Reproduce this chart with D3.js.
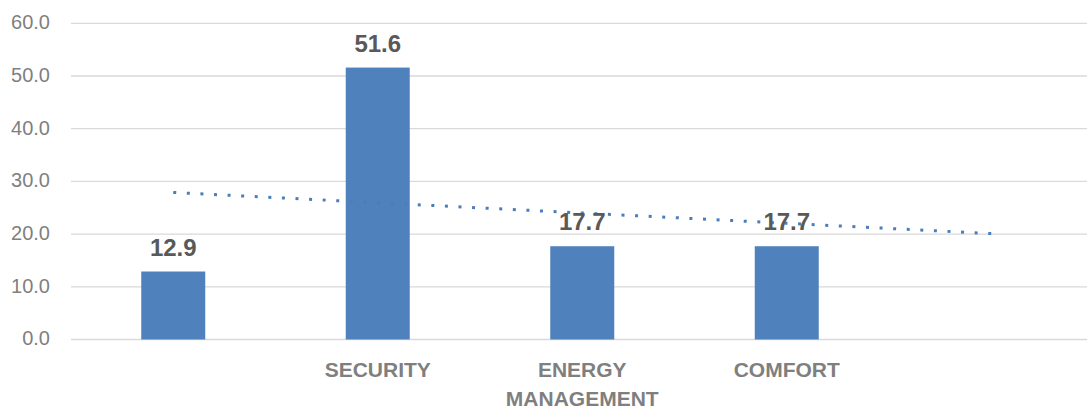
<!DOCTYPE html>
<html>
<head>
<meta charset="utf-8">
<script src="https://cdn.jsdelivr.net/npm/d3@7"></script>
<style>
  html, body { margin: 0; padding: 0; background: #fff; }
  svg { display: block; font-family: "Liberation Sans", Arial, sans-serif; }
</style>
</head>
<body>
<svg id="chart" width="1087" height="408"></svg>
<script>
// Category slots (the first and last slots carry no label)
const categories = ["", "SECURITY", "ENERGY MANAGEMENT", "COMFORT", ""];
// Bar values, one per labelled or unlabelled slot
const values = [12.9, 51.6, 17.7, 17.7, null];
// Y-axis ticks
const yTicks = [0, 10, 20, 30, 40, 50, 60];

const svg = d3.select("#chart");
const plotLeft = 71, plotTop = 23.3, plotBottom = 339.5;
const step = 204.5;

const x = d3.scaleBand()
  .domain(d3.range(categories.length))
  .range([plotLeft, plotLeft + step * categories.length])
  .paddingInner(0.687)
  .paddingOuter(0.3435);

const y = d3.scaleLinear().domain([0, 60]).range([plotBottom, plotTop]);

// Horizontal gridlines
svg.append("g")
  .selectAll("line")
  .data(yTicks)
  .join("line")
  .attr("x1", plotLeft)
  .attr("x2", 1087)
  .attr("y1", d => y(d))
  .attr("y2", d => y(d))
  .attr("stroke", "#d9d9d9")
  .attr("stroke-width", 1.3);

// Y axis labels
const yAxis = svg.append("g")
  .attr("transform", `translate(${plotLeft - 21},0)`)
  .call(d3.axisLeft(y).tickValues(yTicks).tickFormat(d3.format(".1f")).tickSize(0).tickPadding(0));
yAxis.select(".domain").remove();
yAxis.selectAll("text")
  .attr("font-size", 20)
  .attr("font-family", "'Liberation Sans', Arial, sans-serif")
  .attr("fill", "#7f7f7f")
  .attr("dy", "0.27em");

// Bars
const barData = values.map((v, i) => ({ i, v })).filter(d => d.v != null);
svg.append("g")
  .selectAll("rect")
  .data(barData)
  .join("rect")
  .attr("x", d => x(d.i))
  .attr("width", x.bandwidth())
  .attr("y", d => y(d.v))
  .attr("height", d => y(0) - y(d.v))
  .attr("fill", "#4f81bd");

// Linear trendline over the bar values, extended one slot forward
const mx = d3.mean(barData, d => d.i);
const my = d3.mean(barData, d => d.v);
const slope = d3.sum(barData, d => (d.i - mx) * (d.v - my)) / d3.sum(barData, d => (d.i - mx) ** 2);
const intercept = my - slope * mx;
const trendEnds = [0, categories.length - 1].map(i => ({ i, v: intercept + slope * i }));
const cx = i => x(i) + x.bandwidth() / 2;

svg.append("path")
  .datum(trendEnds)
  .attr("d", d3.line().x(d => cx(d.i)).y(d => y(d.v)))
  .attr("fill", "none")
  .attr("stroke", "#4a7ebb")
  .attr("stroke-width", 3)
  .attr("stroke-dasharray", "3 10.6");

// Value labels
svg.append("g")
  .selectAll("text")
  .data(barData)
  .join("text")
  .attr("x", d => cx(d.i))
  .attr("y", d => y(d.v) - 16)
  .attr("text-anchor", "middle")
  .attr("font-size", 24)
  .attr("font-weight", "bold")
  .attr("fill", "#595959")
  .text(d => d3.format(".1f")(d.v));

// Category labels (wrapped one word per line where needed)
const xAxis = svg.append("g")
  .attr("transform", `translate(0,${plotBottom})`)
  .call(d3.axisBottom(x).tickFormat(i => categories[i]).tickSize(0));
xAxis.select(".domain").remove();
xAxis.selectAll("text").each(function(i) {
  const words = categories[i].split(" ");
  const t = d3.select(this)
    .text(null)
    .attr("y", null)
    .attr("dy", null)
    .attr("font-size", 21)
    .attr("font-weight", "bold")
    .attr("font-family", "'Liberation Sans', Arial, sans-serif")
    .attr("fill", "#7f7f7f");
  if (words.length > 1 && categories[i].length > 12) {
    words.forEach((w, k) => {
      t.append("tspan").attr("x", 0).attr("y", 37.5 + k * 28.8).text(w);
    });
  } else {
    t.append("tspan").attr("x", 0).attr("y", 37.5).text(categories[i]);
  }
});
</script>
</body>
</html>
